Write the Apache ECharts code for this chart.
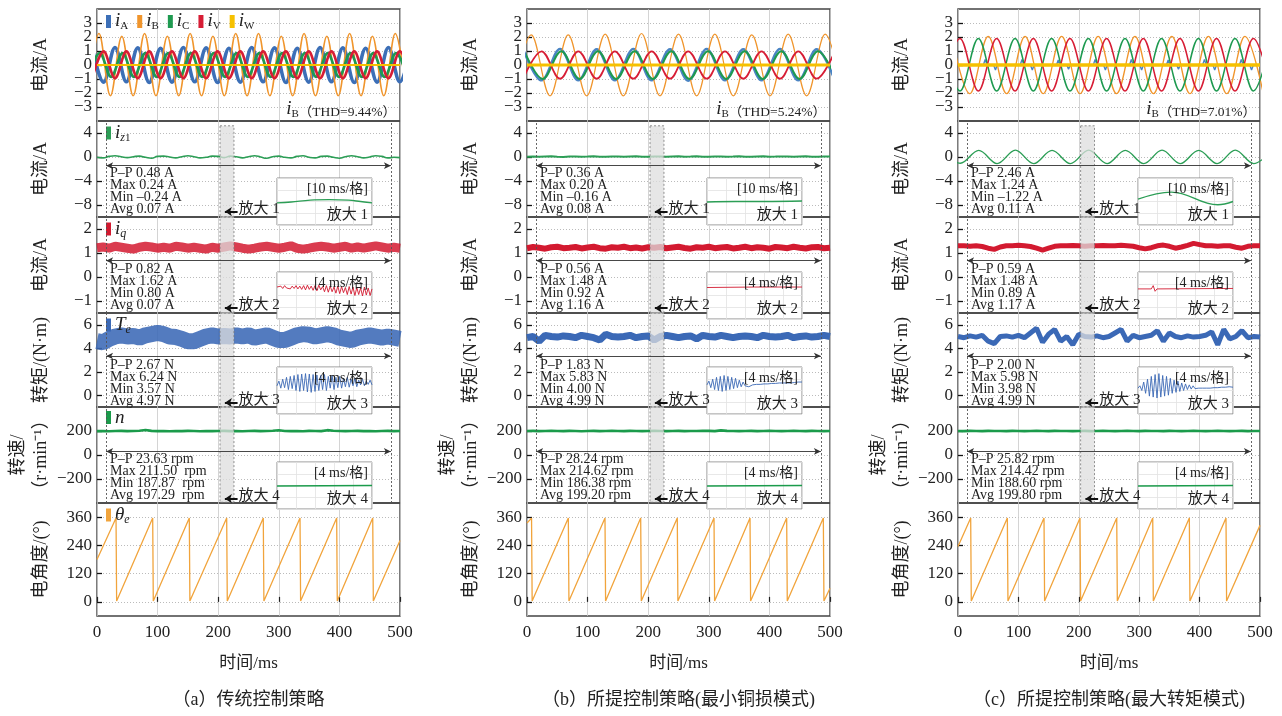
<!DOCTYPE html>
<html>
<head>
<meta charset="utf-8">
<script src="https://cdn.jsdelivr.net/npm/echarts@6/dist/echarts.min.js"></script>
<style>html,body{margin:0;background:#fff}#c{width:1282px;height:716px}</style>
</head>
<body>
<div id="c"></div>
<script>
// 三种控制策略下的电流 / 转矩 / 转速 / 电角度波形对比 (3 列 × 6 行)

// ---- 采样时间 (ms) ----
const T10 = [0,10,20,30,40,50,60,70,80,90,100,110,120,130,140,150,160,170,180,190,200,210,220,230,240,250,260,270,280,290,300,310,320,330,340,350,360,370,380,390,400,410,420,430,440,450,460,470,480,490,500];
const IX = [0,2,4,6,8,10,12,14,16,18,20,22,24,26,28,30,32,34,36,38,40,42,44,46,48,50,52,54,56,58,60,62,64,66,68,70,72,74,76,78,80,82,84,86,88,90,92,94,96,98,100];
const X_TICKS = [0,100,200,300,400,500];

// ---- 行 1: 相电流极值点 [t, A] ----
const iA_a = [[-7.9,1.2],[10.9,-1.22],[29.7,1.25],[48.5,-1.2],[67.3,1.22],[86.1,-1.25],[104.9,1.2],[123.7,-1.22],[142.5,1.25],[161.3,-1.2],[180.1,1.22],[198.9,-1.25],[217.7,1.2],[236.5,-1.22],[255.3,1.25],[274.1,-1.2],[292.9,1.22],[311.7,-1.25],[330.5,1.2],[349.3,-1.22],[368.1,1.25],[386.9,-1.2],[405.7,1.22],[424.5,-1.25],[443.3,1.2],[462.1,-1.22],[480.9,1.25],[499.7,-1.2],[518.5,1.22]];
const iB_a = [[-15.5,-2.2],[3.3,2.25],[22.1,-2.2],[40.9,2.05],[59.7,-2.2],[78.5,2.25],[97.3,-2.2],[116.1,2.05],[134.9,-2.2],[153.7,2.25],[172.5,-2.2],[191.3,2.05],[210.1,-2.2],[228.9,2.25],[247.7,-2.2],[266.5,2.25],[285.3,-2.2],[304.1,2.05],[322.9,-2.2],[341.7,2.25],[360.5,-2.2],[379.3,2.05],[398.1,-2.2],[416.9,2.25],[435.7,-2.2],[454.5,2.05],[473.3,-2.2],[492.1,2.25],[510.9,-2.2]];
const iC_a = [[-14.2,-0.85],[4.6,0.85],[23.4,-0.85],[42.2,0.85],[61,-0.85],[79.8,0.85],[98.6,-0.85],[117.4,0.85],[136.2,-0.85],[155,0.85],[173.8,-0.85],[192.6,0.85],[211.4,-0.85],[230.2,0.85],[249,-0.85],[267.8,0.85],[286.6,-0.85],[305.4,0.85],[324.2,-0.85],[343,0.85],[361.8,-0.85],[380.6,0.85],[399.4,-0.85],[418.2,0.85],[437,-0.85],[455.8,0.85],[474.6,-0.85],[493.4,0.85],[512.2,-0.85]];
const iV_a = [[-7.9,-0.95],[10.9,0.97],[29.7,-0.95],[48.5,0.97],[67.3,-0.95],[86.1,0.97],[104.9,-0.95],[123.7,0.97],[142.5,-0.95],[161.3,0.97],[180.1,-0.95],[198.9,0.97],[217.7,-0.95],[236.5,0.97],[255.3,-0.95],[274.1,0.97],[292.9,-0.95],[311.7,0.97],[330.5,-0.95],[349.3,0.97],[368.1,-0.95],[386.9,0.97],[405.7,-0.95],[424.5,0.97],[443.3,-0.95],[462.1,0.97],[480.9,-0.95],[499.7,0.97],[518.5,-0.95]];

const iA_b = [[-6.3,1.12],[24,-1.1],[54.5,1.15],[84.7,-1.1],[115,1.12],[145,-1.1],[175.5,1.15],[205.7,-1.1],[236,1.12],[266,-1.12],[296.5,1.15],[326.7,-1.1],[357,1.12],[387,-1.1],[417.5,1.15],[447.7,-1.1],[478,1.12],[508,-1.1]];
const iB_b = [[-23,-2.15],[7,2.15],[38,-2.2],[68,2.15],[98.5,-2.2],[129,2.2],[159,-2.2],[189,2.25],[219.5,-2.2],[250,2.2],[280,-2.2],[310,2.2],[340.5,-2.2],[371,2.15],[401,-2.2],[431,2.2],[461.5,-2.2],[492,2.2],[522,-2.2]];
const iC_b = [[-4.3,0.98],[26,-1.0],[56.5,0.98],[86.7,-1.0],[117,0.98],[147,-1.0],[177.5,0.98],[207.7,-1.0],[238,0.98],[268,-1.0],[298.5,0.98],[328.7,-1.0],[359,0.98],[389,-1.0],[419.5,0.98],[449.7,-1.0],[480,0.98],[510,-1.0]];
const iV_b = [[-6.3,-0.98],[24,0.98],[54.5,-0.98],[84.7,0.98],[115,-0.98],[145,0.98],[175.5,-0.98],[205.7,0.98],[236,-0.98],[266,0.98],[296.5,-0.98],[326.7,0.98],[357,-0.98],[387,0.98],[417.5,-0.98],[447.7,0.98],[478,-0.98],[508,0.98]];

const iA_c = [[0,0],[42,0],[45,0.4],[48,0],[59,0],[62,-0.35],[65,0],[103,0],[106,0.4],[109,0],[120,0],[123,-0.35],[126,0],[163,0],[166,0.35],[169,0],[180,0],[183,-0.3],[186,0],[224,0],[227,0.4],[230,0],[241,0],[244,-0.35],[247,0],[284,0],[287,0.4],[290,0],[301,0],[304,-0.35],[307,0],[345,0],[348,0.35],[351,0],[362,0],[365,-0.3],[368,0],[405,0],[408,0.4],[411,0],[422,0],[425,-0.35],[428,0],[466,0],[469,0.4],[472,0],[483,0],[486,-0.35],[489,0],[500,0]];
const iB_c = [[-10.5,2.05],[19.5,-2.05],[50,2.05],[80.5,-2.05],[111,2.05],[141,-2.05],[171.6,2.05],[202,-2.05],[232,2.05],[262.5,-2.05],[293,2.05],[323.5,-2.05],[354,2.05],[384,-2.05],[414.5,2.05],[445,-2.05],[475,2.05],[505.5,-2.05]];
const iC_c = [[-27,1.85],[3.3,-1.85],[33.7,1.9],[64,-1.85],[94.4,1.9],[124.7,-1.85],[155,1.9],[185.4,-1.85],[215.8,1.9],[246,-1.85],[276.5,1.9],[306.8,-1.85],[337,1.9],[367.5,-1.85],[398,1.9],[428,-1.85],[458.6,1.9],[489,-1.85],[519,1.9]];
const iV_c = [[-27,-1.9],[3.3,1.9],[33.7,-1.85],[64,1.9],[94.4,-1.85],[124.7,1.9],[155,-1.85],[185.4,1.9],[215.8,-1.85],[246,1.9],[276.5,-1.85],[306.8,1.9],[337,-1.85],[367.5,1.9],[398,-1.85],[428,1.9],[458.6,-1.85],[489,1.9],[519,-1.85]];
const iW_flat = [[0,0],[500,0]];

// ---- 行 2: i_z1 (A) ----
const iz1_a = [-0.05,-0.15,0.1,0.2,0.05,-0.1,0.05,0.15,-0.05,-0.2,0.1,0.15,0,-0.15,0.05,0.2,0.05,-0.15,-0.05,0.15,0.1,-0.1,0.15,0.05,-0.15,0.05,0.2,0,-0.2,0.05,0.15,-0.05,-0.15,0.1,0.2,-0.05,-0.15,0.1,0.15,-0.05,-0.2,0.05,0.2,0.05,-0.15,0,0.2,0.1,-0.15,-0.05,-0.1];
const iz1_b = [0.05,0.1,0.04,0.08,0.12,0.06,0.02,0.08,0.1,0.05,0.07,0.12,0.04,0.06,0.1,0.08,0.03,0.09,0.12,0.05,0.06,0.1,0.08,0.04,0.09,0.11,0.05,0.07,0.12,0.06,0.04,0.09,0.1,0.05,0.08,0.12,0.06,0.03,0.09,0.11,0.05,0.07,0.1,0.08,0.04,0.1,0.12,0.06,0.05,0.09,0.08];
const iz1_c = [[-26.4,1.1],[4,-1.05],[34.3,1.1],[64.7,-1.1],[95,1.15],[125.4,-1.1],[155.7,1.1],[186,-1.1],[216.4,1.15],[246.8,-1.1],[277,1.1],[307.5,-1.1],[337.8,1.15],[368,-1.1],[398.5,1.1],[429,-1.1],[459,1.15],[489.6,-1.1],[520,1.1]];

// ---- 行 3: i_q (A) ----
const iq_a = [1.22,1.25,1.2,1.28,1.24,1.2,1.16,1.24,1.28,1.25,1.2,1.24,1.2,1.28,1.25,1.2,1.24,1.2,1.16,1.24,1.2,1.25,1.3,1.25,1.2,1.16,1.2,1.25,1.28,1.24,1.2,1.24,1.3,1.2,1.16,1.2,1.25,1.28,1.25,1.2,1.24,1.28,1.2,1.25,1.2,1.25,1.3,1.25,1.2,1.24,1.2];
const iq_b = [1.2,1.25,1.22,1.18,1.24,1.26,1.2,1.22,1.25,1.19,1.23,1.26,1.2,1.18,1.24,1.22,1.26,1.2,1.23,1.19,1.24,1.22,1.25,1.2,1.23,1.26,1.21,1.18,1.24,1.22,1.26,1.2,1.23,1.25,1.19,1.22,1.26,1.2,1.24,1.22,1.18,1.25,1.23,1.2,1.26,1.22,1.19,1.24,1.25,1.2,1.22];
const iq_c = [1.3,1.3,1.28,1.3,1.27,1.2,1.15,1.25,1.3,1.3,1.32,1.3,1.27,1.2,1.12,1.2,1.28,1.3,1.3,1.31,1.3,1.28,1.3,1.3,1.31,1.3,1.3,1.32,1.3,1.28,1.22,1.17,1.22,1.3,1.33,1.28,1.2,1.25,1.32,1.4,1.35,1.3,1.3,1.28,1.3,1.3,1.24,1.2,1.28,1.3,1.3];

// ---- 行 4: T_e (N·m) ----
const Te_a = [4.6,4.5,4.8,5.0,5.1,5.0,5.05,4.9,5.1,5.2,5.3,5.2,5.0,4.95,4.8,4.6,4.6,4.8,5.0,5.1,5.0,5.05,5.0,5.1,5.0,5.1,4.9,5.0,5.1,4.9,4.7,4.7,4.9,5.1,5.2,5.15,5.0,5.1,5.2,5.1,4.9,4.8,4.7,4.9,5.0,5.1,5.0,4.9,5.0,4.9,4.8];
const Te_b = [4.9,5.0,4.6,5.1,5.0,4.95,5.05,5.0,4.9,5.1,5.0,4.9,4.7,5.2,5.0,4.95,5.0,5.1,4.9,5.0,5.05,4.7,5.0,5.1,5.0,4.9,5.0,5.05,4.8,5.1,5.0,4.95,5.1,5.0,4.9,5.0,5.05,5.0,4.9,5.1,5.0,4.95,5.0,5.1,4.9,5.0,5.05,4.95,5.0,5.1,5.0];
const Te_c = [5.0,4.9,5.05,4.95,5.1,4.6,4.4,5.0,5.05,4.95,5.1,4.9,5.3,5.7,4.5,5.2,5.6,4.6,5.0,4.3,5.2,5.0,4.95,5.05,4.9,5.0,5.3,5.6,4.6,5.1,4.9,5.0,5.1,5.5,4.6,5.3,5.0,4.9,5.05,4.95,5.0,5.1,5.4,4.3,5.6,4.8,5.0,5.5,4.9,5.0,4.95];

// ---- 行 5: n (r/min) ----
const n_a = [199,200,198,200,201,199,200,202,208,201,199,200,198,200,199,201,200,198,200,199,200,201,199,200,198,200,201,199,200,202,206,200,199,200,198,201,200,199,207,202,200,199,200,201,199,200,198,200,201,199,200];
const n_b = [200,201,199,200,202,200,199,201,200,198,200,201,199,200,201,200,199,201,200,199,200,201,200,199,200,201,199,200,200,202,201,199,205,201,200,199,200,201,199,200,201,200,199,200,201,200,199,201,200,199,200];
const n_c = [200,199,201,200,199,201,200,200,199,201,200,199,200,201,200,199,201,200,200,199,200,201,199,200,201,200,199,200,201,200,199,201,200,200,199,201,200,199,200,201,200,199,200,201,200,199,200,201,199,200,200];

// ---- 行 6: θe (°) ----
const th_a = [[0,180],[31.4,356],[32.4,4],[91.9,356],[92.9,4],[152.3,356],[153.3,4],[214,356],[215,4],[274.4,356],[275.4,4],[335,356],[336,4],[395.5,356],[396.5,4],[455,356],[456,4],[500,261]];
const th_b = [[0,335],[7.5,356],[8.5,4],[68.2,356],[69.2,4],[128.7,356],[129.7,4],[187.6,356],[188.6,4],[248,356],[249,4],[308.6,356],[309.6,4],[368,356],[369,4],[428.5,356],[429.5,4],[489,356],[490,4],[500,58]];
const th_c = [[0,235],[21,356],[22,4],[81.7,356],[82.7,4],[142.4,356],[143.4,4],[202,356],[203,4],[262.8,356],[263.8,4],[322.4,356],[323.4,4],[383,356],[384,4],[443.7,356],[444.7,4],[500,325]];

// ---- 放大图 (相对坐标 0-100) ----
const ins1_a = [[0,47],[15,49],[35,53],[55,54],[75,53],[88,50],[100,47]];
const ins1_b = [[0,49],[30,50],[60,50],[100,51]];
const ins1_c = [[0,55],[35,70],[84,43],[100,50]];
const ins2_a = [68,66,70,65,71,66,69,64,70,65,71,64,70,63,71,62,72,63,70,61,71,60,72,62,69,58,71,57,70,58,68,55,70,54,69,56,67,52,69,53,68,50,67,52,66,49,68,51,66,50,64];
const ins2_b = [[0,67],[50,68],[100,68]];
const ins2_c = [[0,64],[14,64],[16,71],[18,59],[20,64],[100,65]];
const ins3_a = [60,70,55,74,56,78,52,80,54,82,50,84,48,85,50,86,47,85,46,84,48,83,50,82,52,84,50,80,55,82,52,78,56,80,55,76,58,78,57,74,60,76,58,72,62,74,60,70,63,72,62];
const ins3_b = [62,70,56,74,52,78,50,80,48,82,50,80,52,78,54,76,56,72,58,68,60,64,58,60,62,62,63,62,63,63,64,63,64,64,65,64,65,65,66,65,66,66,66,67,66,67,67,67,68,67,68];
const ins3_c = [55,60,50,68,44,74,38,80,36,84,34,86,36,82,38,80,40,76,44,72,46,70,48,66,50,64,52,62,53,60,54,58,55,57,55,56,55,56,55,55,56,55,56,56,57,56,57,57,58,57,57];
const ins4 = [[0,49],[100,50]];

const STATS = [
  [["P–P 0.48 A","Max 0.24 A","Min –0.24 A","Avg 0.07 A"],
   ["P–P 0.82 A","Max 1.62 A","Min 0.80 A","Avg 0.07 A"],
   ["P–P 2.67 N","Max 6.24 N","Min 3.57 N","Avg 4.97 N"],
   ["P–P 23.63 rpm","Max 211.50  rpm","Min 187.87  rpm","Avg 197.29  rpm"]],
  [["P–P 0.36 A","Max 0.20 A","Min –0.16 A","Avg 0.08 A"],
   ["P–P 0.56 A","Max 1.48 A","Min 0.92 A","Avg 1.16 A"],
   ["P–P 1.83 N","Max 5.83 N","Min 4.00 N","Avg 4.99 N"],
   ["P–P 28.24 rpm","Max 214.62 rpm","Min 186.38 rpm","Avg 199.20 rpm"]],
  [["P–P 2.46 A","Max 1.24 A","Min –1.22 A","Avg 0.11 A"],
   ["P–P 0.59 A","Max 1.48 A","Min 0.89 A","Avg 1.17 A"],
   ["P–P 2.00 N","Max 5.98 N","Min 3.98 N","Avg 4.99 N"],
   ["P–P 25.82 rpm","Max 214.42 rpm","Min 188.60 rpm","Avg 199.80 rpm"]]
];
const THD = ["9.44%", "5.24%", "7.01%"];
const CAPTIONS = ["（a）传统控制策略", "（b）所提控制策略(最小铜损模式)", "（c）所提控制策略(最大转矩模式)"];
const SCALE_TXT = ["[10 ms/格]", "[4 ms/格]", "[4 ms/格]", "[4 ms/格]"];

// ---- 版式 ----
const COL_LEFT = [97, 527, 958];
const COL_W = [303, 303, 302];
const ROW_TOP = [9, 121, 217, 313, 407, 503];
const ROW_H = [112, 96, 96, 94, 96, 113];
const INSET_DY = [57, 55, 54, 55];
// 行 1 刻度较密: 标签分两组放在两条重叠的 y 轴上, 避免被自动隐藏
const Y_CFG = [
  { min: -4, max: 4, interval: 1, ticks: [-3,-2,-1,0,1,2,3], labels: [-3,-1,1,3], labels2: [-2,0,2], name: "电流/A", gap: 44 },
  { min: -10, max: 6, interval: 2, ticks: [-8,-4,0,4], labels: [-8,-4,0,4], name: "电流/A", gap: 44 },
  { min: -1.5, max: 2.5, interval: 0.5, ticks: [-1,0,1,2], labels: [-1,0,1,2], name: "电流/A", gap: 44 },
  { min: -1, max: 7, interval: 1, ticks: [0,2,4,6], labels: [0,2,4,6], name: "转矩/(N·m)", gap: 44 },
  { min: -400, max: 400, interval: 100, ticks: [-200,0,200], labels: [-200,0,200], name: "转速/\n（r·min⁻¹）", gap: 35 },
  { min: -60, max: 420, interval: 60, ticks: [0,120,240,360], labels: [0,120,240,360], name: "电角度/(°)", gap: 44 }
];
const ARROW_Y = [null, -1.45, 0.68, 3.34, 30];
const ZOOM_Y = [null, -9.1, -1.3, -0.63, -364];
const BOX_Y = [null, [5.2, -10], [2.5, -1.5], [7, -1], [400, -394]];

const SERIF = '"Liberation Serif", "Noto Sans CJK SC"';
const C = { blue: "#3c6fb7", orange: "#f0952c", green: "#1e9a50", red: "#d71d35", yellow: "#f6c100",
            te: "#3b69b6", iq: "#d31a30", iz: "#2c9e56", n: "#1b9b4b", th: "#f1a43c" };

const zip = (xs, ys) => xs.map((x, i) => [x, ys[i]]);
const minus = v => String(v).replace("-", "−");

const chart = echarts.init(document.getElementById("c"), null, { renderer: "canvas" });
const grids = [], xAxes = [], yAxes = [], series = [], extraY = [];
const labelStyle = { showMinLabel: true, showMaxLabel: true, formatter: minus,
  fontSize: 17, fontFamily: SERIF, color: "#222", margin: 5 };

for (let c = 0; c < 3; c++) {
  for (let r = 0; r < 6; r++) {
    const gi = c * 6 + r, y = Y_CFG[r], last = r === 5;
    grids.push({ left: COL_LEFT[c], top: ROW_TOP[r], width: COL_W[c], height: ROW_H[r],
      show: true, borderColor: "#444", borderWidth: 1.4, backgroundColor: "transparent" });
    xAxes.push({ gridIndex: gi, type: "value", min: 0, max: 500, interval: 50,
      axisLine: { show: false },
      axisTick: { show: last, inside: true, length: 5, customValues: X_TICKS, lineStyle: { color: "#222", width: 1.2 } },
      axisLabel: { show: last, customValues: X_TICKS, showMinLabel: true, showMaxLabel: true,
        fontSize: 17, fontFamily: SERIF, color: "#222", margin: 8 },
      splitLine: { show: true, lineStyle: { color: "#c9c9c9", width: 0.8 } },
      name: last ? "时间/ms" : "", nameLocation: "middle", nameGap: 39,
      nameTextStyle: { fontSize: 17, fontFamily: SERIF, color: "#222" } });
    yAxes.push({ gridIndex: gi, type: "value", position: "left", min: y.min, max: y.max, interval: y.interval,
      axisLine: { show: false },
      axisTick: { show: true, inside: true, length: 5, customValues: y.ticks, lineStyle: { color: "#111", width: 1.3 } },
      axisLabel: Object.assign({ customValues: y.labels }, labelStyle),
      splitLine: { show: true, lineStyle: { color: "#a9a9a9", type: [1, 2], width: 0.8 } },
      name: y.name, nameLocation: "middle", nameRotate: 90, nameGap: y.gap,
      nameTextStyle: { fontSize: 18, fontFamily: SERIF, color: "#222", lineHeight: 23 } });
    if (y.labels2) {
      extraY.push({ gridIndex: gi, type: "value", position: "left", offset: 0, min: y.min, max: y.max, interval: y.interval,
        axisLine: { show: false }, axisTick: { show: false }, splitLine: { show: false },
        axisLabel: Object.assign({ customValues: y.labels2 }, labelStyle) });
    }
  }
}

function line(gi, name, data, color, width, extra) {
  series.push(Object.assign({ type: "line", name: name, xAxisIndex: gi, yAxisIndex: gi, data: data,
    showSymbol: false, symbol: "none", lineStyle: { color: color, width: width }, itemStyle: { color: color },
    animation: false, silent: true, z: 2 }, extra || {}));
}
const SM = { smooth: 0.36 };

// 行 1
line(0, "iA", iA_a, C.blue, 3.6, SM); line(0, "iB", iB_a, C.orange, 1.6, SM);
line(0, "iC", iC_a, C.green, 2.6, SM); line(0, "iV", iV_a, C.red, 2.6, SM);
line(0, "iW", iW_flat, C.yellow, 2.2);
line(6, "iA", iA_b, "#4a84c4", 2.4, SM); line(6, "iB", iB_b, C.orange, 1.2, SM);
line(6, "iC", iC_b, C.green, 2.0, SM); line(6, "iV", iV_b, C.red, 1.8, SM);
line(6, "iW", iW_flat, C.yellow, 3.2);
line(12, "iA", iA_c, "#4a84c4", 1.4); line(12, "iB", iB_c, C.orange, 1.3, SM);
line(12, "iC", iC_c, C.green, 1.5, SM); line(12, "iV", iV_c, C.red, 1.5, SM);
line(12, "iW", iW_flat, C.yellow, 3.6);
// 行 2-6
line(1, "iz1", zip(T10, iz1_a), C.iz, 1.6, { smooth: 0.5 });
line(7, "iz1", zip(T10, iz1_b), C.iz, 2.0);
line(13, "iz1", iz1_c, C.iz, 1.4, SM);
line(2, "iq", zip(T10, iq_a), C.iq, 9, { lineStyle: { color: C.iq, width: 9, opacity: 0.85 } });
line(8, "iq", zip(T10, iq_b), C.iq, 6);
line(14, "iq", zip(T10, iq_c), C.iq, 5);
line(3, "Te", zip(T10, Te_a), C.te, 16, { lineStyle: { color: C.te, width: 16, opacity: 0.88 } });
line(9, "Te", zip(T10, Te_b), C.te, 7);
line(15, "Te", zip(T10, Te_c), C.te, 5);
line(4, "n", zip(T10, n_a), C.n, 2.6);
line(10, "n", zip(T10, n_b), C.n, 2.6);
line(16, "n", zip(T10, n_c), C.n, 2.6);
line(5, "theta", th_a, C.th, 1.3);
line(11, "theta", th_b, C.th, 1.3);
line(17, "theta", th_c, C.th, 1.3);

// 标注: 虚线、双箭头、放大窗、放大箭头
const dashed = { color: "#555", type: [2, 2], width: 0.9 };
const solid = { color: "#333", type: "solid", width: 0.9 };
const thick = { color: "#111", type: "solid", width: 2 };
for (let c = 0; c < 3; c++) {
  for (let r = 1; r <= 4; r++) {
    const gi = c * 6 + r;
    series.push({ type: "line", xAxisIndex: gi, yAxisIndex: gi, data: [[-50, 0]], showSymbol: false,
      lineStyle: { opacity: 0 }, animation: false, silent: true, z: 3,
      markArea: { silent: true, z: 3, itemStyle: { color: "rgba(222,222,222,0.75)", borderColor: "#777", borderWidth: 0.8, borderType: [2, 2] },
        data: [[{ xAxis: 203, yAxis: BOX_Y[r][0] }, { xAxis: 226, yAxis: BOX_Y[r][1] }]] },
      markLine: { silent: true, animation: false, symbol: "none", label: { show: false },
        data: [
          { xAxis: 15, lineStyle: dashed },
          { xAxis: 485, lineStyle: dashed },
          [{ coord: [15, ARROW_Y[r]], symbol: "arrow", symbolSize: [5, 7], lineStyle: solid },
           { coord: [485, ARROW_Y[r]], symbol: "arrow", symbolSize: [5, 7], lineStyle: solid }],
          [{ coord: [232, ZOOM_Y[r]], symbol: "none", lineStyle: thick },
           { coord: [211, ZOOM_Y[r]], symbol: "arrow", symbolSize: [7, 7], lineStyle: thick }]
        ] } });
  }
}

// 放大图网格
const INSETS = [
  [[ins1_a, C.iz], [zip(IX, ins2_a), C.iq], [zip(IX, ins3_a), C.te], [ins4, C.n]],
  [[ins1_b, C.iz], [ins2_b, C.iq], [zip(IX, ins3_b), C.te], [ins4, C.n]],
  [[ins1_c, C.iz], [ins2_c, C.iq], [zip(IX, ins3_c), C.te], [ins4, C.n]]
];
for (let c = 0; c < 3; c++) {
  for (let k = 0; k < 4; k++) {
    const gi = 18 + c * 4 + k;
    grids.push({ left: COL_LEFT[c] + 180, top: ROW_TOP[k + 1] + INSET_DY[k], width: 95, height: 47,
      show: true, backgroundColor: "#fff", borderColor: "#8a8a8a", borderWidth: 1, z: 6 });
    const ax = { gridIndex: gi, type: "value", min: 0, max: 100, axisLine: { show: false }, axisTick: { show: false },
      axisLabel: { show: false }, splitLine: { show: true, lineStyle: { color: "#e2e2e2", width: 0.8 } }, z: 7 };
    xAxes.push(Object.assign({ interval: 20 }, ax));
    yAxes.push(Object.assign({ interval: 25 }, ax));
    const [d, col] = INSETS[c][k];
    line(gi, "", d, col, k === 0 || k === 3 ? 1.4 : 0.9, { z: 8, smooth: k === 0 ? 0.4 : false });
  }
}
extraY.forEach(a => yAxes.push(a));

const legendText = {
  iA: "{i|i}{s|A}", iB: "{i|i}{s|B}", iC: "{i|i}{s|C}", iV: "{i|i}{s|V}", iW: "{i|i}{s|W}",
  iz1: "{i|i}{si|z}{s|1}", iq: "{i|i}{si|q}", Te: "{i|T}{si|e}", n: "{i|n}", theta: "{i|θ}{si|e}"
};
const rich = {
  i: { fontFamily: SERIF, fontStyle: "italic", fontSize: 19, lineHeight: 20, color: "#222" },
  s: { fontFamily: SERIF, fontSize: 11, lineHeight: 10, padding: [10, 0, 0, 0], color: "#222" },
  si: { fontFamily: SERIF, fontStyle: "italic", fontSize: 12, lineHeight: 10, padding: [10, 0, 0, 0], color: "#222" },
  t: { fontFamily: SERIF, fontSize: 13.5, lineHeight: 13, padding: [6, 0, 0, 0], color: "#222" }
};
const legBase = { left: 106, itemWidth: 5, itemHeight: 13, icon: "rect", padding: 0, selectedMode: false,
  formatter: n => legendText[n], textStyle: { rich: rich, padding: [0, 0, 0, -1] } };
const legends = [Object.assign({}, legBase, { top: 11, itemGap: 9, data: ["iA", "iB", "iC", "iV", "iW"] })];
["iz1", "iq", "Te", "n", "theta"].forEach((nm, i) => legends.push(Object.assign({}, legBase, { top: ROW_TOP[i + 1] + 1, data: [nm] })));

chart.setOption({ animation: false, backgroundColor: "#fff", grid: grids, xAxis: xAxes, yAxis: yAxes,
  series: series, legend: legends });

// 文字标注
const g = [];
const txt = (x, y, text, o) => g.push({ type: "text", x: x, y: y, z: 10, silent: true,
  style: Object.assign({ text: text, fill: "#222", fontFamily: SERIF, fontSize: 13.5 }, o || {}) });
for (let c = 0; c < 3; c++) {
  const L = COL_LEFT[c], W = COL_W[c];
  txt(L + W - 4, ROW_TOP[0] + ROW_H[0] - 2, "{i|i}{s|B}{t|（THD=" + THD[c] + "）}", { align: "right", verticalAlign: "bottom", rich: rich });
  for (let r = 1; r <= 4; r++) {
    txt(L + 13, ROW_TOP[r] + 46, STATS[c][r - 1].join("\n"), { lineHeight: 12.2, verticalAlign: "top", fontSize: 14 });
    const p = chart.convertToPixel({ gridIndex: c * 6 + r }, [232, ZOOM_Y[r]]);
    txt(p[0] + 1, p[1] - 3, "放大 " + r, { fontSize: 15, verticalAlign: "middle" });
    const ix = L + 180 + 95, iy = ROW_TOP[r] + INSET_DY[r - 1];
    txt(ix - 4, iy + 4, SCALE_TXT[r - 1], { align: "right", verticalAlign: "top", fontSize: 14 });
    txt(ix - 4, iy + 45, "放大 " + r, { align: "right", verticalAlign: "bottom", fontSize: 15 });
  }
  txt(L + W / 2, 700, CAPTIONS[c], { align: "center", verticalAlign: "middle", fontSize: 18 });
}
chart.setOption({ graphic: { elements: g } });
</script>
</body>
</html>
